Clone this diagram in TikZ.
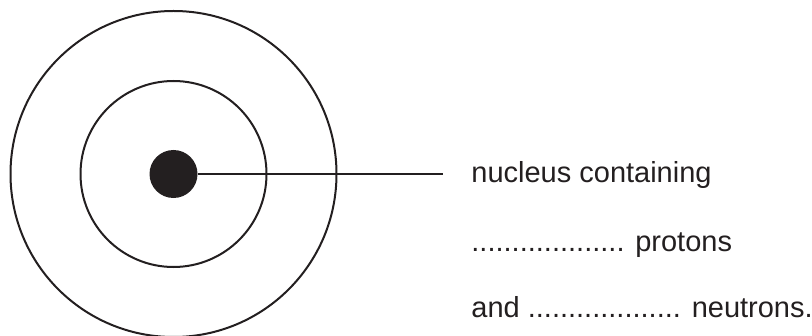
\documentclass[tikz,border=0pt]{standalone}
\usepackage{fontspec}
\setmainfont{Liberation Sans}
\usetikzlibrary{positioning}
\definecolor{ink}{HTML}{231F20}
\tikzset{shell/.style={draw=ink,line width=1pt},
  core/.style={circle,fill=ink,inner sep=0pt,minimum size=24pt},
  pointer/.style={draw=ink,line width=1pt},
  label/.style={anchor=base west,inner sep=0pt,text=ink,font=\fontsize{14.5}{17}\selectfont}}

\begin{document}
\begin{tikzpicture}[x=0.5pt,y=-0.5pt]
  \useasboundingbox (0,0) rectangle (812,336);
  \coordinate (centre) at (173.5,174);
  \draw[shell] (centre) circle[radius=163];
  \draw[shell] (centre) circle[radius=93];
  \node[core] (nucleus) at (centre) {};
  \coordinate (tip) at (443,174);
  \draw[pointer] (nucleus.east) -- (tip);
  \node[label] (line1) at (471,183) {nucleus containing};
  \node[label] (line2) at (471,251) {................... protons};
  \node[label] (line3) at (471,317) {and ................... neutrons.};
\end{tikzpicture}
\end{document}
